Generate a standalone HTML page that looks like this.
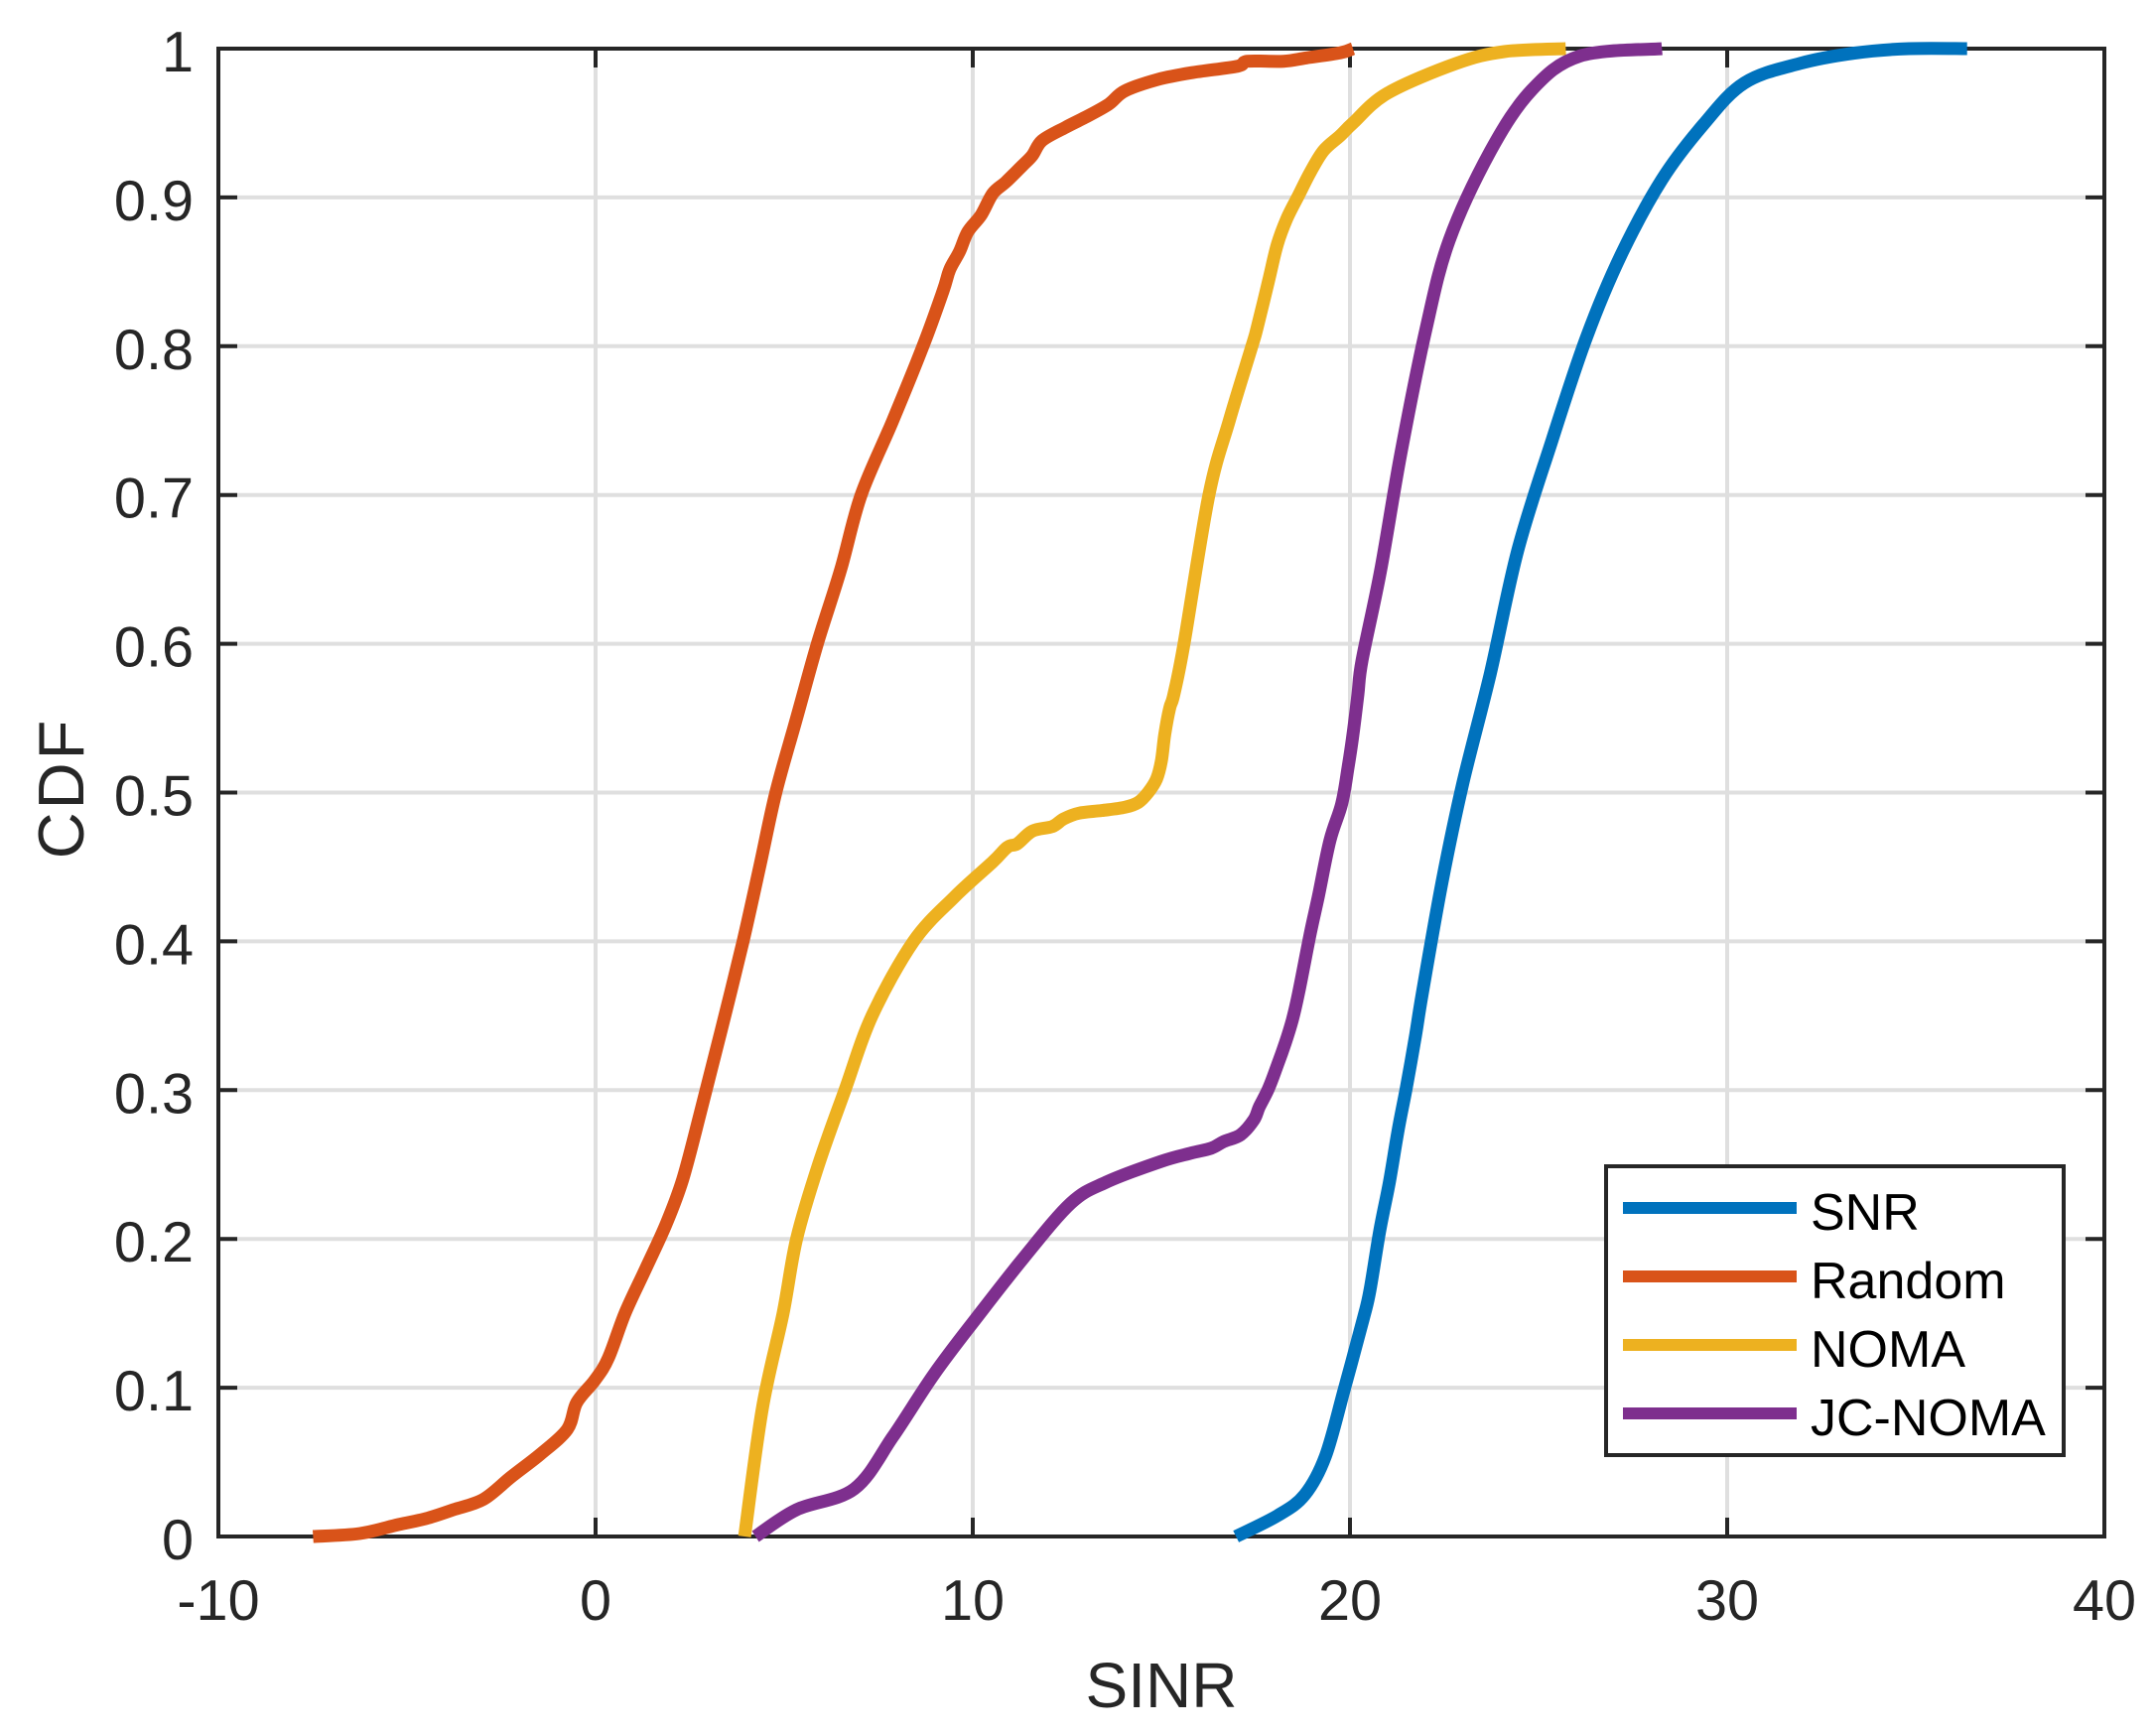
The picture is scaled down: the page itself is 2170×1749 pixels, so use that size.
<!DOCTYPE html>
<html>
<head>
<meta charset="utf-8">
<title>SINR CDF</title>
<style>
html,body{margin:0;padding:0;background:#fff;}
svg{display:block;font-family:"Liberation Sans",sans-serif;}
</style>
</head>
<body>
<svg id="chart" width="2170" height="1749" viewBox="0 0 2170 1749" xmlns="http://www.w3.org/2000/svg">
<rect width="2170" height="1749" fill="#fff"/>
<g id="grid"></g>
<g id="ticks"></g>
<g id="tickLabels"></g>
<rect x="220" y="49" width="1900" height="1499" fill="none" stroke="#262626" stroke-width="4"/>
<g id="series"></g>
<text x="1170" y="1720" font-size="64" text-anchor="middle" fill="#262626">SINR</text>
<text transform="translate(84 794) rotate(-90)" font-size="65" letter-spacing="3" text-anchor="middle" fill="#262626">CDF</text>
<g id="legend">
<rect x="1618" y="1175" width="461" height="291" fill="#fff" stroke="#262626" stroke-width="4"/>
</g>
</svg>
<script>
const xTicks = [-10, 0, 10, 20, 30, 40];
const yTicks = [0, 0.1, 0.2, 0.3, 0.4, 0.5, 0.6, 0.7, 0.8, 0.9, 1];
const xTickLabels = ['-10', '0', '10', '20', '30', '40'];
const yTickLabels = ['0', '0.1', '0.2', '0.3', '0.4', '0.5', '0.6', '0.7', '0.8', '0.9', '1'];
const seriesNames = ['SNR', 'Random', 'NOMA', 'JC-NOMA'];

const snrSinr = [16.98,18.08,18.8,19.35,19.86,20.35,20.53,20.79,21.05,21.27,21.49,21.74,21.92,22.45,22.99,23.72,24.45,25.36,26.27,27.18,28.27,29.37,30.46,31.92,33.37,34.83,36.36];
const snrCdf = [0,0.014,0.028,0.054,0.1,0.146,0.1654,0.2055,0.2388,0.2722,0.301,0.3369,0.3656,0.441,0.506,0.58,0.663,0.737,0.806,0.861,0.912,0.949,0.977,0.99,0.997,1,1];

const randomSinr = [-7.49,-6.25,-5.23,-4.5,-3.77,-2.97,-2.24,-1.48,-0.75,-0.5,-0.02,0.34,0.78,1.33,1.87,2.31,2.78,3.33,3.91,4.35,4.78,5.33,5.88,6.5,7.04,7.88,8.68,9.21,9.39,9.65,9.87,10.22,10.53,10.88,11.32,11.58,11.84,12.46,12.98,13.6,14.03,14.91,15.79,17.02,17.28,18.24,18.85,19.74,20.08];
const randomCdf = [0,0.002,0.008,0.012,0.018,0.025,0.04,0.055,0.072,0.09,0.105,0.12,0.15,0.18,0.21,0.24,0.285,0.34,0.4,0.45,0.5,0.55,0.6,0.65,0.7,0.75,0.8,0.837,0.8515,0.8637,0.877,0.8881,0.9026,0.9104,0.9215,0.9282,0.9382,0.9471,0.9538,0.9626,0.9715,0.9793,0.9838,0.9882,0.9915,0.9915,0.9938,0.9971,1];

const nomaSinr = [3.95,4.42,4.97,5.33,5.91,6.61,7.33,8.43,9.52,10.53,10.92,11.18,11.58,12.11,12.41,12.81,13.42,14.03,14.39,14.65,14.87,15.0,15.09,15.22,15.33,15.6,16.26,16.8,17.4,17.54,17.84,18.07,18.33,18.64,18.95,19.3,19.74,20.08,20.99,22.81,24.09,25.72];
const nomaCdf = [0,0.086,0.15,0.2,0.25,0.3,0.35,0.4,0.43,0.4534,0.4634,0.4656,0.4741,0.4772,0.4823,0.4861,0.4879,0.4901,0.4934,0.5001,0.509,0.5212,0.539,0.5568,0.5657,0.6,0.7,0.75,0.8,0.8125,0.8437,0.8682,0.8859,0.9015,0.917,0.9315,0.9415,0.95,0.97,0.99,0.998,1];

const jcNomaSinr = [4.24,5.33,6.86,7.88,8.97,10.07,11.34,12.6,13.53,14.98,15.79,16.32,16.66,17.1,17.45,17.6,17.84,18.08,18.29,18.47,18.64,18.95,19.16,19.47,19.78,19.95,20.08,20.21,20.32,20.81,21.35,22.01,22.63,23.72,24.81,26.09,28.27];
const jcNomaCdf = [0,0.018,0.032,0.067,0.109,0.146,0.187,0.224,0.238,0.252,0.2577,0.261,0.2655,0.27,0.28,0.2889,0.301,0.317,0.332,0.347,0.3656,0.4056,0.43,0.468,0.4923,0.517,0.539,0.566,0.589,0.649,0.728,0.811,0.871,0.931,0.972,0.995,1];

const NS = 'http://www.w3.org/2000/svg';
const xScale = v => 220 + (v + 10) * 38;
const yScale = v => 1548 - v * 1499;
function make(tag, attrs, parent, text) {
  const el = document.createElementNS(NS, tag);
  for (const k in attrs) el.setAttribute(k, attrs[k]);
  if (text !== undefined) el.textContent = text;
  parent.appendChild(el);
  return el;
}
function smoothPath(xs, ys) {
  const p = xs.map((v, j) => [xScale(v), yScale(ys[j])]);
  let d = 'M' + p[0][0].toFixed(1) + ' ' + p[0][1].toFixed(1);
  for (let j = 0; j < p.length - 1; j++) {
    const a = p[Math.max(j - 1, 0)], b = p[j], c = p[j + 1], e = p[Math.min(j + 2, p.length - 1)];
    const c1x = b[0] + (c[0] - a[0]) / 6, c1y = b[1] + (c[1] - a[1]) / 6;
    const c2x = c[0] - (e[0] - b[0]) / 6, c2y = c[1] - (e[1] - b[1]) / 6;
    d += ' C' + [c1x, c1y, c2x, c2y, c[0], c[1]].map(n => n.toFixed(1)).join(' ');
  }
  return d;
}
const gridG = document.getElementById('grid');
const ticksG = document.getElementById('ticks');
const labelsG = document.getElementById('tickLabels');
const gridStyle = {stroke: '#dfdfdf', 'stroke-width': 4};
const tickStyle = {stroke: '#262626', 'stroke-width': 4};

xTicks.forEach((t, i) => {
  const x = xScale(t);
  const g = make('line', {x1: x, x2: x, y1: 49, y2: 1548, ...gridStyle}, gridG);
  
  
  const a = make('line', {x1: x, x2: x, y1: 1548, y2: 1529, ...tickStyle}, ticksG);
  
  
  const b = make('line', {x1: x, x2: x, y1: 49, y2: 68, ...tickStyle}, ticksG);
  
  
  const l = make('text', {x: x, y: 1632, 'font-size': 57.6, 'text-anchor': 'middle', fill: '#262626'}, labelsG, xTickLabels[i]);
  
  
});
yTicks.forEach((t, i) => {
  const y = yScale(t);
  const g = make('line', {x1: 220, x2: 2120, y1: y, y2: y, ...gridStyle}, gridG);
  
  
  const a = make('line', {x1: 220, x2: 239, y1: y, y2: y, ...tickStyle}, ticksG);
  
  
  const b = make('line', {x1: 2120, x2: 2101, y1: y, y2: y, ...tickStyle}, ticksG);
  
  
  const l = make('text', {x: 195, y: y + 23, 'font-size': 57.6, 'text-anchor': 'end', fill: '#262626'}, labelsG, yTickLabels[i]);
  
  
});

const seriesG = document.getElementById('series');
const legendG = document.getElementById('legend');
const allX = [snrSinr, randomSinr, nomaSinr, jcNomaSinr];
const allY = [snrCdf, randomCdf, nomaCdf, jcNomaCdf];
const colors = ['#0072BD', '#D95319', '#EDB120', '#7E2F8E'];
seriesNames.forEach((name, i) => {
  const line = make('path', {d: smoothPath(allX[i], allY[i]), fill: 'none', stroke: colors[i], 'stroke-width': 13, 'stroke-linejoin': 'round'}, seriesG);
  
  
  const ly = 1217 + i * 69;
  const sample = make('line', {x1: 1635, x2: 1810, y1: ly, y2: ly, stroke: colors[i], 'stroke-width': 12}, legendG);
  
  
  const label = make('text', {x: 1824, y: 1239 + i * 69, 'font-size': 52, fill: '#000'}, legendG, name);
  
  
});
</script>
</body>
</html>
